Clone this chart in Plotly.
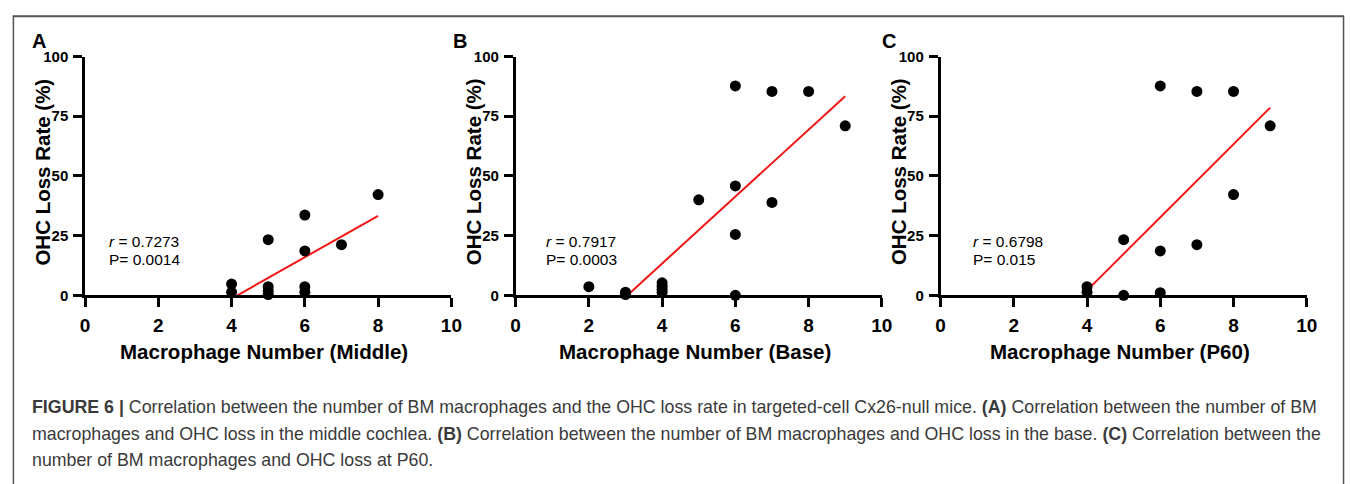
import plotly.graph_objects as go

W, H = 1357, 484

# ---------------- data ----------------
a_x = [4, 4, 5, 5, 5, 5, 6, 6, 6, 6, 7, 8]
a_y = [4.7, 1.3, 23.3, 3.6, 1.8, 0.3, 33.6, 18.6, 3.6, 1.3, 21.2, 42.2]
a_fit_x = [4.16, 8.0]
a_fit_y = [0.0, 33.3]

b_x = [2, 3, 3, 4, 4, 4, 4, 5, 6, 6, 6, 6, 7, 7, 8, 9]
b_y = [3.6, 1.3, 0.3, 5.2, 3.8, 2.4, 1.2, 40.0, 87.7, 45.8, 25.5, 0.0, 85.4, 38.9, 85.4, 71.0]
b_fit_x = [3.13, 9.0]
b_fit_y = [1.1, 83.4]

c_x = [4, 4, 5, 5, 6, 6, 6, 7, 7, 8, 8, 9]
c_y = [3.6, 1.3, 23.3, 0.0, 87.7, 18.6, 1.1, 85.4, 21.2, 85.4, 42.2, 71.0]
c_fit_x = [4.09, 9.0]
c_fit_y = [3.4, 78.6]

x_ticks = [0, 2, 4, 6, 8, 10]
y_ticks = [0, 25, 50, 75, 100]
panel_letters = ["A", "B", "C"]
x_titles = ["Macrophage Number (Middle)", "Macrophage Number (Base)", "Macrophage Number (P60)"]
y_title = "OHC Loss Rate (%)"
r_texts = ["0.7273", "0.7917", "0.6798"]
p_texts = ["0.0014", "0.0003", "0.015"]

caption_lines = [
    "<b>FIGURE 6 |</b> Correlation between the number of BM macrophages and the OHC loss rate in targeted-cell Cx26-null mice. <b>(A)</b> Correlation between the number of BM",
    "macrophages and OHC loss in the middle cochlea. <b>(B)</b> Correlation between the number of BM macrophages and OHC loss in the base. <b>(C)</b> Correlation between the",
    "number of BM macrophages and OHC loss at P60.",
]

FONT = "Arial, Liberation Sans, Helvetica, sans-serif"

def px(x):
    return x / W

def py(y):
    return 1 - y / H

panels_px = [(81.0, 451.7), (516.7, 887.3), (946.7, 1317.3)]
top_px, bot_px = 49.3, 296.7

fig = go.Figure()
datasets = [(a_x, a_y, a_fit_x, a_fit_y), (b_x, b_y, b_fit_x, b_fit_y), (c_x, c_y, c_fit_x, c_fit_y)]

annotations = []
for i, ((xs, ys, fx, fy), (l, r)) in enumerate(zip(datasets, panels_px)):
    n = "" if i == 0 else str(i + 1)
    xa, ya = "x" + n, "y" + n
    fig.add_trace(go.Scatter(x=fx, y=fy, mode="lines", line=dict(color="#f01414", width=2),
                             xaxis=xa, yaxis=ya, showlegend=False, cliponaxis=False))
    fig.add_trace(go.Scatter(x=xs, y=ys, mode="markers", marker=dict(color="black", size=11),
                             xaxis=xa, yaxis=ya, showlegend=False, cliponaxis=False))
    axis_common = dict(showline=True, linecolor="black", linewidth=2.5, ticks="outside",
                       ticklen=9, tickwidth=2.5, tickcolor="black", showgrid=False,
                       zeroline=False, fixedrange=True)
    fig.update_layout(**{
        "xaxis" + n: dict(domain=[px(l), px(r)], range=[0, 10], tickvals=x_ticks,
                          tickfont=dict(family=FONT, size=19, color="black", weight="bold"),
                          anchor=ya, ticklabelstandoff=2, **axis_common),
        "yaxis" + n: dict(domain=[py(bot_px), py(top_px)], range=[0, 100], tickvals=y_ticks,
                          tickfont=dict(family=FONT, size=15, color="black", weight="bold"),
                          anchor=xa, ticklabelstandoff=2, **axis_common),
    })
    annotations.append(dict(text=x_titles[i], x=px((l + r) / 2 - 4), y=py(355), xref="paper", yref="paper",
                            showarrow=False, xanchor="center", yanchor="middle",
                            font=dict(family=FONT, size=20.5, color="black", weight="bold")))
    annotations.append(dict(text=y_title, x=px(l - 43), y=py(169), xref="paper", yref="paper",
                            showarrow=False, xanchor="center", yanchor="middle", textangle=-90,
                            font=dict(family=FONT, size=20.5, color="black", weight="bold")))
    letter_right = [43, 469, 903][i]
    annotations.append(dict(text=panel_letters[i], x=px(letter_right), y=py(33), xref="paper", yref="paper",
                            showarrow=False, xanchor="right", yanchor="middle", borderpad=0,
                            font=dict(family=FONT, size=20, color="black", weight="bold")))
    stat_x = [103, 545, 978][i]
    annotations.append(dict(text="<i>r</i> = " + r_texts[i], x=px(stat_x), y=py(241), xref="paper", yref="paper",
                            showarrow=False, xanchor="left", yanchor="middle",
                            font=dict(family=FONT, size=15.5, color="black")))
    annotations.append(dict(text="P= " + p_texts[i], x=px(stat_x), y=py(259.5), xref="paper", yref="paper",
                            showarrow=False, xanchor="left", yanchor="middle",
                            font=dict(family=FONT, size=15.5, color="black")))

for j, line in enumerate(caption_lines):
    annotations.append(dict(text=line, x=px(25), y=py([412, 440, 467][j]), xref="paper", yref="paper",
                            showarrow=False, xanchor="left", yanchor="middle", align="left",
                            font=dict(family=FONT, size=17.8, color="#3a3a3a")))

shapes = [
    dict(type="line", xref="paper", yref="paper", x0=px(8), x1=px(1355), y0=py(7.5), y1=py(7.5),
         line=dict(color="#555555", width=2)),
    dict(type="line", xref="paper", yref="paper", x0=px(8.5), x1=px(8.5), y0=py(7), y1=py(500),
         line=dict(color="#555555", width=1.5)),
    dict(type="line", xref="paper", yref="paper", x0=px(1354.5), x1=px(1354.5), y0=py(7), y1=py(500),
         line=dict(color="#555555", width=1.5)),
]

fig.update_layout(width=W, height=H, margin=dict(l=0, r=0, t=0, b=0),
                  paper_bgcolor="white", plot_bgcolor="white",
                  annotations=annotations, shapes=shapes,
                  font=dict(family=FONT, color="black"))

fig.write_html("out.html", config={"displayModeBar": False},
               post_script="document.body.style.margin='0';document.body.style.overflow='hidden';")
